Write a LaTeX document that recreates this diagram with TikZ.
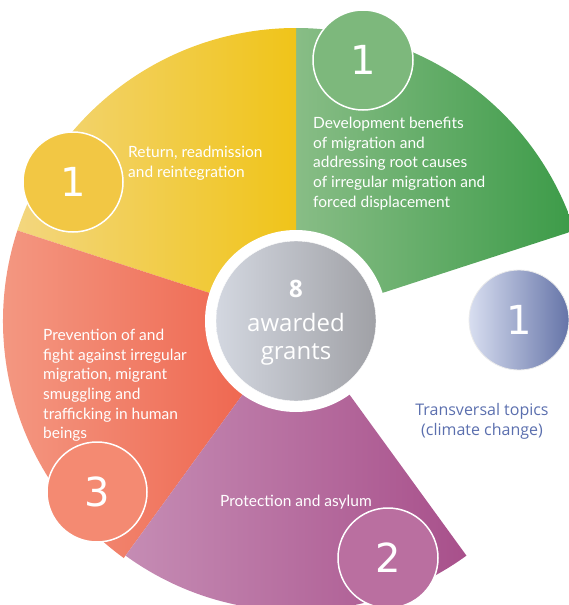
\documentclass[tikz,border=0pt]{standalone}
\usepackage{fontspec}
\setmainfont{Lato}
\newfontfamily\plexfont{Open Sans}
\newfontfamily\numfont{DejaVu Sans}
\definecolor{greenL}{HTML}{88BD86}
\definecolor{greenR}{HTML}{3C9B48}
\definecolor{greenC}{HTML}{7DB87C}
\definecolor{yellowL}{HTML}{F3D67E}
\definecolor{yellowR}{HTML}{F0C419}
\definecolor{yellowC}{HTML}{F2C744}
\definecolor{redL}{HTML}{F49C86}
\definecolor{redR}{HTML}{EE5E47}
\definecolor{redC}{HTML}{F48A72}
\definecolor{purpL}{HTML}{C58CB4}
\definecolor{purpR}{HTML}{A8508B}
\definecolor{purpC}{HTML}{BA6FA0}
\definecolor{blueL}{HTML}{D8DEF0}
\definecolor{blueR}{HTML}{6574A8}
\definecolor{grayL}{HTML}{D3D7E0}
\definecolor{grayR}{HTML}{A0A1A6}
\definecolor{transText}{HTML}{5B6FAE}

\tikzset{
    numcirc/.style={circle, minimum size=100, inner sep=0, draw=white, line width=1.5,
        text=white, font=\numfont\fontsize{40}{40}\selectfont},
    topic/.style={align=left, inner sep=0, text=white,
        font=\fontsize{15.5}{19.6}\selectfont},
    middle/.style={inner sep=0, text=white, font=\plexfont\fontsize{24}{24}\selectfont}
}

\begin{document}
\begin{tikzpicture}[x=1pt, y=1pt]
    \useasboundingbox (0,0) rectangle (569,-605);
    \clip (0,0) rectangle (569,-605);

    \coordinate (c) at (296,-321);

    % the five sectors
    \path [left color=greenL, right color=greenR]
        (c) -- ++(18:293) arc [start angle=18, end angle=90, radius=293] -- cycle;
    \path [left color=yellowL, right color=yellowR]
        (c) -- ++(90:293) arc [start angle=90, end angle=162, radius=293] -- cycle;
    \path [left color=redL, right color=redR]
        (c) -- ++(162:293) arc [start angle=162, end angle=234, radius=293] -- cycle;
    \path [left color=purpL, right color=purpR]
        (c) -- ++(234:290) arc [start angle=234, end angle=306, radius=290] -- cycle;

    % centre
    \fill [white] (c) circle [radius=91];
    \draw [white, left color=grayL, right color=grayR] (c) circle [radius=80];
    \node (eight) [middle, font=\plexfont\bfseries\fontsize{24}{24}\selectfont] at (296,-289) {8};
    \node (awarded) [middle] at (296,-322) {awarded};
    \node (grants) [middle] at (296,-354) {grants};

    % topics
    \node (devtext) [topic, anchor=north west] at (313,-117) {Development benefits\\of migration and\\addressing root causes\\of irregular migration and\\forced displacement};
    \node (rettext) [topic, anchor=north west] at (128,-146) {Return, readmission\\and reintegration};
    \node (pretext) [topic, anchor=north west] at (43,-329) {Prevention of and\\fight against irregular\\migration, migrant\\smuggling and\\trafficking in human\\beings};
    \node (protext) [topic, anchor=west] at (220,-502) {Protection and asylum};
    \node (transtext) [align=center, inner sep=0, text=transText, anchor=north,
        font=\plexfont\fontsize{16}{20}\selectfont] at (482,-403) {Transversal topics\\(climate change)};

    % numbers
    \node (devnum) [numcirc, fill=greenC] at (363,-60) {1};
    \node (retnum) [numcirc, fill=yellowC] at (73,-182) {1};
    \node (prenum) [numcirc, fill=redC] at (97,-492) {3};
    \node (pronum) [numcirc, fill=purpC] at (388,-558) {2};
    \node (transnum) [numcirc, draw=black!8, line width=0.8, left color=blueL, right color=blueR] at (519,-320) {1};
\end{tikzpicture}
\end{document}
